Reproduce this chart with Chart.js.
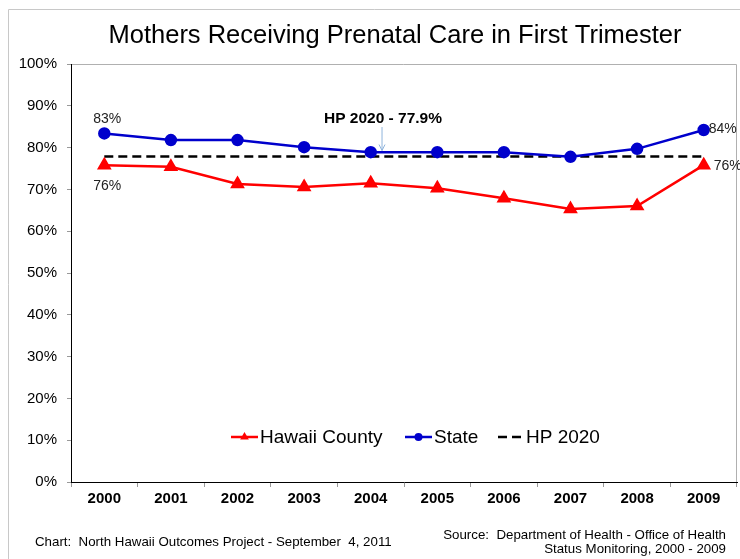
<!DOCTYPE html>
<html>
<head>
<style>
body { margin: 0; background: #fff; }
canvas { display: block; }
</style>
</head>
<body>

<canvas id="myChart" width="740" height="559"></canvas>

<script src="https://cdn.jsdelivr.net/npm/chart.js"></script>
<script>
// data
const years = ['2000', '2001', '2002', '2003', '2004', '2005', '2006', '2007', '2008', '2009'];
const hawaiiCounty = [75.8, 75.4, 71.3, 70.6, 71.5, 70.3, 67.9, 65.3, 66.0, 75.8];
const state = [83.4, 81.8, 81.8, 80.1, 78.9, 78.9, 78.9, 77.8, 79.7, 84.2];
const hp2020 = [77.9, 77.9, 77.9, 77.9, 77.9, 77.9, 77.9, 77.9, 77.9, 77.9];
const chartTitle = 'Mothers Receiving Prenatal Care in First Trimester';
const hpNote = 'HP 2020 - 77.9%';
const footLeft = 'Chart:  North Hawaii Outcomes Project - September  4, 2011';
const footRight = ['Source:  Department of Health - Office of Health', 'Status Monitoring, 2000 - 2009'];

const FONT = '"Liberation Sans", Arial, sans-serif';

// frame, title, legend, labels, footer
const extras = {
    id: 'extras',
    beforeDraw(chart) {
        const c = chart.ctx, a = chart.chartArea;
        c.save();
        c.strokeStyle = '#c8c8c8';
        c.lineWidth = 1;
        c.beginPath();
        c.moveTo(8.5, 559); c.lineTo(8.5, 9.5); c.lineTo(740, 9.5);
        c.stroke();
        c.strokeStyle = '#b0b0b0';
        c.beginPath();
        c.moveTo(a.left, a.top + 0.5); c.lineTo(a.right - 0.5, a.top + 0.5); c.lineTo(a.right - 0.5, a.bottom);
        c.stroke();
        c.restore();
    },
    afterDraw(chart) {
        const c = chart.ctx;
        const xs = chart.scales.x, ys = chart.scales.y;
        c.save();
        c.fillStyle = '#000';
        c.textBaseline = 'middle';

        c.font = '25.5px ' + FONT;
        c.textAlign = 'center';
        c.fillText(chartTitle, 395, 36);

        // point labels
        const county = chart.getDatasetMeta(0).data;
        const st = chart.getDatasetMeta(1).data;
        const last = years.length - 1;
        c.font = '14px ' + FONT;
        c.fillStyle = '#222';
        c.fillText(Math.round(state[0]) + '%', st[0].x + 3, st[0].y - 14);
        c.fillText(Math.round(hawaiiCounty[0]) + '%', county[0].x + 3, county[0].y + 21);
        c.textAlign = 'left';
        c.fillText(Math.round(state[last]) + '%', st[last].x + 5, st[last].y - 1);
        c.fillText(Math.round(hawaiiCounty[last]) + '%', county[last].x + 10, county[last].y + 1);

        // HP 2020 note with arrow
        c.font = 'bold 15.5px ' + FONT;
        c.textAlign = 'center';
        c.fillStyle = '#000';
        c.fillText(hpNote, 383, 119);
        const ax = xs.getPixelForValue(4.17);
        const tip = ys.getPixelForValue(79.3);
        c.strokeStyle = '#8fb4dc';
        c.lineWidth = 1;
        c.beginPath();
        c.moveTo(ax, 127); c.lineTo(ax, tip);
        c.moveTo(ax - 3, tip - 6); c.lineTo(ax, tip); c.lineTo(ax + 3, tip - 6);
        c.stroke();

        // legend inside the plot
        const ly = 437;
        const items = [
            { ds: chart.data.datasets[0], x0: 231, x1: 258 },
            { ds: chart.data.datasets[1], x0: 405, x1: 432 },
            { ds: chart.data.datasets[2], x0: 498, x1: 524 }
        ];
        c.font = '19px ' + FONT;
        c.textAlign = 'left';
        items.forEach(it => {
            c.strokeStyle = it.ds.borderColor;
            c.lineWidth = it.ds.borderWidth;
            c.setLineDash(it.ds.borderDash || []);
            c.beginPath();
            c.moveTo(it.x0, ly); c.lineTo(it.x1, ly);
            c.stroke();
            c.setLineDash([]);
            if (it.ds.pointRadius > 0) {
                c.fillStyle = it.ds.pointBackgroundColor;
                Chart.helpers.drawPoint(c, { pointStyle: it.ds.pointStyle, radius: it.ds.pointRadius - 1, borderWidth: 0 }, (it.x0 + it.x1) / 2, ly);
            }
            c.fillStyle = '#000';
            c.fillText(it.ds.label, it.x1 + 2, ly + 1);
        });

        // footer
        c.font = '13.3px ' + FONT;
        c.fillStyle = '#000';
        c.textAlign = 'left';
        c.fillText(footLeft, 35, 542);
        c.textAlign = 'right';
        c.fillText(footRight[0], 726, 535);
        c.fillText(footRight[1], 726, 549);
        c.restore();
    }
};

let ctx = document.getElementById('myChart').getContext('2d');
let chart = new Chart(ctx, {
    type: 'line',
    data: {
        labels: years,
        datasets: [{
            label: 'Hawaii County',
            data: hawaiiCounty,
            borderColor: '#ff0000',
            backgroundColor: '#ff0000',
            pointBackgroundColor: '#ff0000',
            pointBorderColor: '#ff0000',
            pointStyle: 'triangle',
            pointRadius: 6,
            borderWidth: 2.5,
            tension: 0
        }, {
            label: 'State',
            data: state,
            borderColor: '#0000cc',
            backgroundColor: '#0000cc',
            pointBackgroundColor: '#0000cc',
            pointBorderColor: '#0000cc',
            pointStyle: 'circle',
            pointRadius: 5,
            borderWidth: 2.5,
            tension: 0
        }, {
            label: 'HP 2020',
            data: hp2020,
            borderColor: '#000',
            backgroundColor: '#000',
            pointRadius: 0,
            borderWidth: 2.5,
            borderDash: [9, 5],
            tension: 0
        }]
    },
    options: {
        responsive: false,
        animation: false,
        devicePixelRatio: 1,
        layout: { autoPadding: false, padding: { left: 0, right: 3, top: 64, bottom: 0 } },
        plugins: {
            legend: { display: false },
            tooltip: { enabled: false }
        },
        scales: {
            x: {
                offset: true,
                afterFit: s => { s.height = 77; },
                grid: { drawOnChartArea: false, offset: true, tickLength: 5, tickColor: '#999' },
                border: { color: '#000', width: 1 },
                ticks: { color: '#000', padding: 3, font: { family: FONT, size: 15, weight: 'bold' } }
            },
            y: {
                min: 0,
                max: 100,
                afterFit: s => { s.width = 71; },
                grid: { drawOnChartArea: false, tickLength: 4, tickColor: '#999' },
                border: { color: '#000', width: 1 },
                ticks: {
                    stepSize: 10,
                    padding: 10,
                    color: '#000',
                    font: { family: FONT, size: 15 },
                    callback: v => v + '%'
                }
            }
        }
    },
    plugins: [extras]
});
</script>

</body>
</html>
